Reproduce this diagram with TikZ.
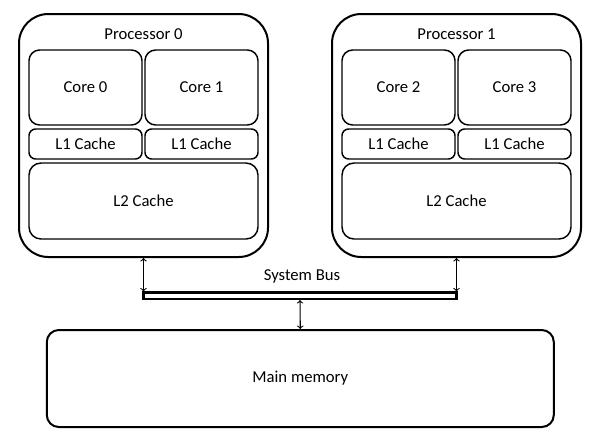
\documentclass[tikz,border=0pt]{standalone}
\usepackage{fontspec}
\setmainfont{Carlito}
\usetikzlibrary{positioning}

\begin{document}
\begin{tikzpicture}[x=0.75pt,y=-0.75pt,
  font=\fontsize{12.5}{15}\selectfont,
  box/.style={draw,line width=1.1pt,inner sep=0pt,align=center},
  chip/.style={draw,line width=1.5pt,inner sep=0pt,rounded corners=22pt},
  link/.style={<->,line width=0.8pt}]
\def\px{0.75pt}; % one pixel of the reference
\useasboundingbox (0,0) rectangle (596,447);

\begin{scope}
\node[chip,minimum width=249*\px,minimum height=243*\px] (p0) at (143.5,135.5) {};
\node (p0label) at (143.5,34) {Processor 0};
\node[box,rounded corners=8pt,minimum width=113*\px,minimum height=75*\px] (core0) at (85.5,87.5) {Core 0};
\node[box,rounded corners=8pt,minimum width=113*\px,minimum height=75*\px] (core1) at (201.5,87.5) {Core 1};
\node[box,rounded corners=5pt,minimum width=113*\px,minimum height=30*\px] (l1a) at (85.5,144) {L1 Cache};
\node[box,rounded corners=5pt,minimum width=113*\px,minimum height=30*\px] (l1b) at (201.5,144) {L1 Cache};
\node[box,rounded corners=9pt,minimum width=229*\px,minimum height=76*\px] (l2a) at (143.5,201) {L2 Cache};
\end{scope}

\begin{scope}
\node[chip,minimum width=249*\px,minimum height=243*\px] (p1) at (456.5,135.5) {};
\node (p1label) at (456.5,34) {Processor 1};
\node[box,rounded corners=8pt,minimum width=113*\px,minimum height=75*\px] (core2) at (398.5,87.5) {Core 2};
\node[box,rounded corners=8pt,minimum width=113*\px,minimum height=75*\px] (core3) at (514.5,87.5) {Core 3};
\node[box,rounded corners=5pt,minimum width=113*\px,minimum height=30*\px] (l1c) at (398.5,144) {L1 Cache};
\node[box,rounded corners=5pt,minimum width=113*\px,minimum height=30*\px] (l1d) at (514.5,144) {L1 Cache};
\node[box,rounded corners=9pt,minimum width=229*\px,minimum height=76*\px] (l2b) at (456.5,201) {L2 Cache};
\end{scope}

% bus and memory
\node[draw,line width=1.6pt,inner sep=0pt,minimum width=313*\px,minimum height=6.5*\px] (bus) at (300,295.75) {};
\node (buslabel) at (302,276) {System Bus};
\node[chip,rounded corners=9pt,minimum width=507*\px,minimum height=97*\px] (mem) at (300.3,378.5) {Main memory};

\draw[link] (p0.south) -- (p0.south |- bus.north);
\draw[link] (p1.south) -- (p1.south |- bus.north);
\draw[link] (bus.south) -- (mem.north);
\end{tikzpicture}
\end{document}
